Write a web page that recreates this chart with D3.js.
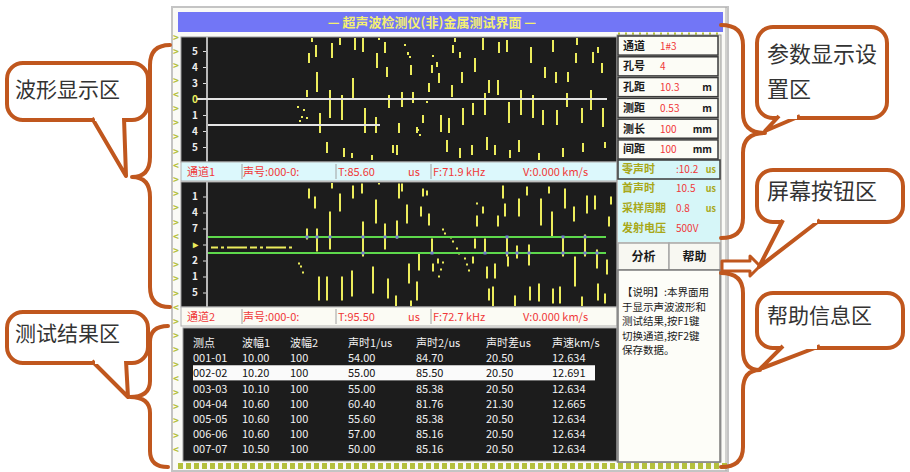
<!DOCTYPE html>
<html>
<head>
<meta charset="utf-8">
<style>
  body { margin: 0; background: #fff; }
  svg text { font-family: "Noto Sans CJK SC", "Noto Sans", sans-serif; }
</style>
</head>
<body>
<script src="https://cdn.jsdelivr.net/npm/d3@7"></script>
<div id="chart"></div>
<script>
// ---- data ----
const titleText = "—  超声波检测仪(非)金属测试界面  —";

// waveform segments: [time sample, amp top, amp bottom]
const upperSegs = [
  [105,62,57],[109,54,42],[102,46,36],[125,56,41],[133,62,54],[148,62,49],[156,62,47],[172,62,59],
  [178,57,46],[170,46,31],[180,32,22],[201,47,44],[204,34,24],[230,37,32],[225,34,26],[232,26,16],
  [222,16,7],[248,62,57],[246,54,46],[253,47,41],[268,41,27],[255,27,16],[245,14,2],[276,62,49],
  [292,57,46],[300,59,47],[282,19,6],[291,19,4],[324,52,36],[338,32,21],[346,59,47],[349,27,16],
  [361,27,17],[369,46,36],[370,62,54],[386,47,36],[391,52,46],[395,36,26],[110,27,7],[100,9,2],
  [146,21,1],[123,9,-19],[135,4,-21],[113,-14,-34],[158,-9,-34],[169,-18,-34],[182,4,-9],[195,7,-8],
  [206,7,-4],[216,-16,-24],[210,-28,-34],[192,-24,-34],[234,-16,-33],[242,-19,-34],[256,-9,-26],
  [266,-4,-16],[278,6,-16],[302,-3,-24],[314,9,-16],[326,4,-19],[336,-11,-26],[350,-11,-26],
  [360,6,-8],[375,-9,-24],[384,9,-11],[396,-9,-28],[120,-43,-54],[137,-49,-58],[145,-54,-59],
  [165,-56,-61],[186,-46,-54],[190,-46,-56],[240,-41,-53],[253,-49,-59],[265,-46,-56],[280,-38,-51],
  [288,-46,-56],[303,-51,-59],[312,-41,-53],[332,-54,-61],[356,-49,-58],[376,-44,-53],[398,-43,-49]
];
const upperDots = [[91,-8],[97,-11],[95,-18],[100,-19],[93,-22],[198,54],[226,43],[220,-3],[211,-31],[213,-36],[203,42]];
const upperBase = [[-10,400,0],[1,173,-26]];   // [t start, t end, amp]

const lowerSegs = [
  [102,56,46],[108,48,36],[125,62,56],[133,51,33],[146,59,46],[155,61,51],[169,45,21],[172,62,60],
  [192,61,46],[195,61,53],[200,40,21],[214,38,28],[216,56,48],[220,54,49],[222,31,19],[110,16,-7],
  [100,16,5],[123,33,-5],[156,23,-12],[178,21,-5],[190,24,6],[225,6,-9],[212,-9,-26],[226,-19,-27],
  [231,-14,-19],[270,29,18],[276,38,31],[291,29,18],[296,59,46],[312,46,28],[298,41,28],[320,58,49],
  [334,46,19],[342,58,51],[345,33,8],[358,56,36],[367,38,23],[380,49,31],[388,49,35],[404,48,40],
  [402,28,18],[268,6,-4],[278,6,-9],[300,8,-12],[310,-1,-14],[322,0,-21],[356,8,-12],[378,10,-12],
  [390,-5,-24],[266,-12,-19],[280,-22,-34],[288,-19,-34],[301,-12,-22],[368,-12,-42],[400,-15,-30],
  [112,-32,-56],[120,-32,-56],[135,-32,-56],[145,-26,-52],[166,-22,-49],[181,-34,-54],[202,-19,-39],
  [210,-37,-56],[189,-51,-62],[204,-56,-62],[282,-44,-56],[286,-42,-62],[308,-51,-62],[323,-42,-56],
  [332,-39,-57],[346,-44,-59],[353,-42,-59],[375,-52,-62],[391,-39,-56],[398,-49,-59]
];
const lowerDots = [[236,15],[238,11],[244,7],[246,3],[250,-4],[252,-9],[258,-14],[260,-20],[262,-26],
  [236,-18],[234,-25],[232,-32],[92,-19],[94,-22],[96,-28],[270,41]];
const lowerGates = [7.5, -8.5];
const lowerDash = [4, 85, -3];

const ampTicks = [48, 32, 16, 0, -16, -32, -48];
const upperTickLabels = ["5", "4", "3", "0", "1", "4", "5"];
const lowerTickLabels = ["1", "4", "7", "▸", "2", "1", "5"];

const ch1Info = ["通道1", "声号:000-0:", "T:85.60", "us", "F:71.9 kHz", "V:0.000 km/s"];
const ch2Info = ["通道2", "声号:000-0:", "T:95.50", "us", "F:72.7 kHz", "V:0.000 km/s"];

const tableHead = ["测点", "波幅1", "波幅2", "声时1/us", "声时2/us", "声时差us", "声速km/s"];
const tableRows = [
  ["001-01", "10.00", "100", "54.00", "84.70", "20.50", "12.634"],
  ["002-02", "10.20", "100", "55.00", "85.50", "20.50", "12.691"],
  ["003-03", "10.10", "100", "55.00", "85.38", "20.50", "12.634"],
  ["004-04", "10.60", "100", "60.40", "81.76", "21.30", "12.665"],
  ["005-05", "10.60", "100", "55.60", "85.38", "20.50", "12.634"],
  ["006-06", "10.60", "100", "57.00", "85.16", "20.50", "12.634"],
  ["007-07", "10.50", "100", "50.00", "85.16", "20.50", "12.634"]
];
const selectedRow = 1;

const paramLabels = ["通道", "孔号", "孔距", "测距", "测长", "间距"];
const paramValues = ["1#3", "4", "10.3", "0.53", "100", "100"];
const paramUnits = ["", "", "m", "m", "mm", "mm"];

const statusLabels = ["零声时", "首声时", "采样周期", "发射电压"];
const statusValues = [":10.2", "10.5", "0.8", "500V"];
const statusUnits = ["us", "us", "us", ""];

const buttonLabels = ["分析", "帮助"];
const helpLines = ["【说明】:本界面用", "于显示声波波形和", "测试结果,按F1键", "切换通道,按F2键", "保存数据。"];

const calloutTexts = [["波形显示区"], ["测试结果区"], ["参数显示设", "置区"], ["屏幕按钮区"], ["帮助信息区"]];

// ---- drawing ----
const W = 910, H = 472;
const svg = d3.select("#chart").append("svg").attr("width", W).attr("height", H);

const olive = "#a8a818", red = "#f03838", yellow = "#ecec5c", orange = "#c0571e";

// outer frame of the instrument screen
svg.append("rect").attr("x", 172).attr("y", 7).attr("width", 556).attr("height", 464)
  .attr("fill", "#fafaf6").attr("stroke", "#c4c4c4").attr("stroke-width", 2);
svg.append("line").attr("x1", 726).attr("x2", 726).attr("y1", 7).attr("y2", 471).attr("stroke", "#a8a8a8");

// title bar
svg.append("rect").attr("x", 178).attr("y", 12).attr("width", 545).attr("height", 20).attr("fill", "#7276f6");
svg.append("text").attr("x", 432).attr("y", 27).attr("text-anchor", "middle")
  .attr("fill", "#f4f070").attr("font-size", 13).attr("font-weight", "bold").text(titleText);

// left chevrons and bottom checker strip
svg.append("g").selectAll("text").data(d3.range(38, 462, 14.2)).join("text")
  .attr("x", 173).attr("y", d => d + 3).attr("font-size", 10).attr("font-weight", "bold")
  .attr("fill", "#b4c03c").text((d, i) => i % 5 === 4 ? "<" : ">");
svg.append("g").selectAll("rect").data(d3.range(178, 724, 8)).join("rect")
  .attr("x", d => d).attr("y", 463).attr("width", 5).attr("height", 6).attr("fill", "#b4c03c");
svg.append("line").attr("x1", 618).attr("x2", 722).attr("y1", 34).attr("y2", 34)
  .attr("stroke", "#b4c03c").attr("stroke-width", 3).attr("stroke-dasharray", "2 5");

// scales
const x = d3.scaleLinear().domain([0, 409]).range([207, 616]);
const yUp = d3.scaleLinear().domain([-63, 62]).range([162, 37]);
const yLo = d3.scaleLinear().domain([-62.5, 62.5]).range([307, 182]);

function wavePanel(y, segs, dots, labels, id) {
  const [y1, y0] = y.range();
  const g = svg.append("g");
  g.append("rect").attr("x", 181).attr("y", y0).attr("width", 436).attr("height", y1 - y0)
    .attr("fill", "#1c1c1c").attr("stroke", "#9a9a9a");
  g.append("line").attr("x1", 207).attr("x2", 207).attr("y1", y0).attr("y2", y1)
    .attr("stroke", "#b8b8b8").attr("stroke-width", 2);
  g.append("clipPath").attr("id", id).append("rect")
    .attr("x", 182).attr("y", y0 + 1).attr("width", 434).attr("height", y1 - y0 - 2);
  const c = g.append("g").attr("clip-path", `url(#${id})`);
  // amplitude axis on the left
  const ax = g.append("g").attr("transform", "translate(206,0)")
    .call(d3.axisLeft(y).tickValues(ampTicks).tickSize(3).tickFormat((d, i) => labels[i]));
  ax.select(".domain").remove();
  ax.selectAll("line").attr("stroke", "#ddd");
  ax.selectAll("text").attr("fill", (d) => d === 0 ? yellow : "#eee").attr("font-size", 10)
    .attr("font-weight", "bold").attr("dx", -2);
  // small ticks on the right edge
  const ar = g.append("g").attr("transform", "translate(617,0)")
    .call(d3.axisRight(y).tickValues(d3.range(-56, 62, 14)).tickSize(3).tickFormat(""));
  ar.select(".domain").remove();
  ar.selectAll("line").attr("stroke", "#aaa");
  c.append("g").selectAll("line").data(segs).join("line")
    .attr("x1", d => x(d[0])).attr("x2", d => x(d[0]))
    .attr("y1", d => y(d[1])).attr("y2", d => y(d[2]))
    .attr("stroke", yellow).attr("stroke-width", 2);
  c.append("g").selectAll("rect").data(dots).join("rect")
    .attr("x", d => x(d[0]) - 1).attr("y", d => y(d[1]) - 1).attr("width", 2).attr("height", 2)
    .attr("fill", yellow);
  return c;
}

// upper channel
const cu = wavePanel(yUp, upperSegs, upperDots, upperTickLabels, "clipU");
cu.append("g").selectAll("line").data(upperBase).join("line")
  .attr("x1", d => x(d[0])).attr("x2", d => x(d[1]))
  .attr("y1", d => yUp(d[2])).attr("y2", d => yUp(d[2]))
  .attr("stroke", "#e4e4e4").attr("stroke-width", 2);

// lower channel
const cl = wavePanel(yLo, lowerSegs, lowerDots, lowerTickLabels, "clipL");
cl.append("g").selectAll("line").data(lowerGates).join("line")
  .attr("x1", x(1)).attr("x2", x(399)).attr("y1", d => yLo(d)).attr("y2", d => yLo(d))
  .attr("stroke", "#5ed84c").attr("stroke-width", 2);
cl.append("line").attr("x1", x(lowerDash[0])).attr("x2", x(lowerDash[1]))
  .attr("y1", yLo(lowerDash[2])).attr("y2", yLo(lowerDash[2]))
  .attr("stroke", yellow).attr("stroke-width", 2).attr("stroke-dasharray", "7 3 3 3 20 3");
// crossing marks where echoes cut the gates
const crossings = [];
lowerSegs.forEach(s => lowerGates.forEach(gv => { if (s[1] >= gv && s[2] <= gv) crossings.push([s[0], gv]); }));
cl.append("g").selectAll("rect").data(crossings).join("rect")
  .attr("x", d => x(d[0]) - 1.5).attr("y", d => yLo(d[1]) - 1.5).attr("width", 3).attr("height", 3)
  .attr("fill", "#6f7fd0");

// info strips
const infoX = [187, 243, 338, 408, 433, 523];
function infoStrip(y0, bg, items) {
  svg.append("rect").attr("x", 181).attr("y", y0).attr("width", 436).attr("height", 19)
    .attr("fill", bg).attr("stroke", "#b0b0b0");
  [242, 336, 431].forEach(sx => svg.append("line").attr("x1", sx).attr("x2", sx)
    .attr("y1", y0 + 2).attr("y2", y0 + 17).attr("stroke", "#a0a0a0"));
  svg.append("g").selectAll("text").data(items).join("text")
    .attr("x", (d, i) => infoX[i]).attr("y", y0 + 14).attr("fill", red)
    .attr("font-size", 11).text(d => d);
}
infoStrip(162, "#dcf8fc", ch1Info);
infoStrip(307, "#fbfbf4", ch2Info);

// results table
svg.append("rect").attr("x", 183).attr("y", 328).attr("width", 434).attr("height", 133)
  .attr("fill", "#1c1c1c").attr("stroke", "#9a9a9a");
const colX = [193, 242, 290, 348, 416, 486, 552];
const rowY = d3.scaleBand().domain(d3.range(tableRows.length + 1)).range([334, 455]);
svg.append("rect").attr("x", 193).attr("y", rowY(selectedRow + 1) + 1)
  .attr("width", 402).attr("height", rowY.bandwidth()).attr("fill", "#fafafa");
svg.append("g").selectAll("g").data([tableHead].concat(tableRows)).join("g")
  .attr("transform", (d, i) => `translate(0,${rowY(i) + rowY.bandwidth() - 2})`)
  .each(function (row, ri) {
    d3.select(this).selectAll("text").data(row).join("text")
      .attr("x", (d, i) => colX[i]).attr("font-size", 11)
      .attr("fill", ri === selectedRow + 1 ? "#111" : "#f2f2f2").text(d => d);
  });

// right column: parameters
svg.append("rect").attr("x", 617).attr("y", 35).attr("width", 104).attr("height", 427)
  .attr("fill", "#e4e4dc").attr("stroke", "#9a9a9a");
const pY = d3.scaleBand().domain(d3.range(paramLabels.length)).range([36, 159]).paddingInner(0.08);
const pg = svg.append("g").selectAll("g").data(paramLabels).join("g")
  .attr("transform", (d, i) => `translate(0,${pY(i)})`);
pg.append("rect").attr("x", 618).attr("width", 100).attr("height", pY.bandwidth())
  .attr("fill", "#fcfcf6").attr("stroke", "#3a3a3a").attr("stroke-width", 1.5);
pg.append("text").attr("x", 623).attr("y", pY.bandwidth() / 2 + 4).attr("font-size", 11)
  .attr("font-weight", "bold").attr("fill", "#1a1a1a").text(d => d);
pg.append("text").attr("x", 660).attr("y", pY.bandwidth() / 2 + 4).attr("font-size", 10)
  .attr("fill", red).text((d, i) => paramValues[i]);
pg.append("text").attr("x", 712).attr("y", pY.bandwidth() / 2 + 4).attr("font-size", 10)
  .attr("text-anchor", "end").attr("font-weight", "bold").attr("fill", "#1a1a1a").text((d, i) => paramUnits[i]);

// status block
svg.append("rect").attr("x", 618).attr("y", 160).attr("width", 102).attr("height", 82).attr("fill", "#d6f6f8");
svg.append("rect").attr("x", 618).attr("y", 160).attr("width", 102).attr("height", 19)
  .attr("fill", "none").attr("stroke", "#3a3a3a").attr("stroke-width", 1.5);
const sY = [173, 192, 212, 232];
const sg = svg.append("g").selectAll("g").data(statusLabels).join("g")
  .attr("transform", (d, i) => `translate(0,${sY[i]})`);
sg.append("text").attr("x", 622).attr("font-size", 11).attr("font-weight", "bold").attr("fill", olive).text(d => d);
sg.append("text").attr("x", 676).attr("font-size", 10).attr("fill", red).text((d, i) => statusValues[i]);
sg.append("text").attr("x", 716).attr("text-anchor", "end").attr("font-size", 9).attr("font-weight", "bold")
  .attr("fill", olive).text((d, i) => statusUnits[i]);

// buttons
const bx = d3.scaleBand().domain(buttonLabels).range([618, 720]);
const bg = svg.append("g").selectAll("g").data(buttonLabels).join("g");
bg.append("rect").attr("x", d => bx(d)).attr("y", 243).attr("width", bx.bandwidth()).attr("height", 27)
  .attr("fill", "#f8f8f2").attr("stroke", "#a8a8a8").attr("stroke-width", 1.5);
bg.append("text").attr("x", d => bx(d) + bx.bandwidth() / 2).attr("y", 261).attr("text-anchor", "middle")
  .attr("font-size", 12).attr("font-weight", "bold").attr("fill", "#1a1a1a").text(d => d);

// help area
svg.append("rect").attr("x", 618).attr("y", 270).attr("width", 102).attr("height", 192)
  .attr("fill", "#fdfdf8").attr("stroke", "#7a7a7a").attr("stroke-width", 1.5);
svg.append("g").selectAll("text").data(helpLines).join("text")
  .attr("x", 622).attr("y", (d, i) => 296 + i * 14.5).attr("font-size", 10.5).attr("fill", "#1a1a1a").text(d => d);

// ---- callouts ----
const ann = svg.append("g").attr("fill", "none").attr("stroke", orange).attr("stroke-width", 4)
  .attr("stroke-linejoin", "round").attr("stroke-linecap", "round");

function brace(xEnd, xSpine, xTip, y0, yTip, y1, r) {
  const p = d3.path();
  p.moveTo(xEnd, y0);
  p.quadraticCurveTo(xSpine, y0, xSpine, y0 + r);
  p.lineTo(xSpine, yTip - r);
  p.quadraticCurveTo(xSpine, yTip, xTip, yTip);
  p.quadraticCurveTo(xSpine, yTip, xSpine, yTip + r);
  p.lineTo(xSpine, y1 - r);
  p.quadraticCurveTo(xSpine, y1, xEnd, y1);
  return p.toString();
}
ann.append("path").attr("d", brace(170, 150, 132, 45, 177, 307, 20));
ann.append("path").attr("d", brace(168, 150, 130, 326, 397, 467, 16));
ann.append("path").attr("d", brace(721, 743, 765, 25, 133, 238, 20));
ann.append("path").attr("d", brace(721, 743, 760, 273, 370, 467, 20));

// arrow towards the buttons
ann.append("path").attr("stroke-width", 3).attr("fill", "#fff")
  .attr("d", "M722,261 L750,261 L750,256 L760,266 L750,276 L750,271 L722,271 Z");

const bubbles = [
  { box: [7, 63, 141, 57], tail: [[92, 118], [126, 176], [124, 118]], tx: 15, ty: 97, size: 21 },
  { box: [7, 312, 141, 51], tail: [[92, 361], [128, 397], [126, 361]], tx: 15, ty: 341, size: 21 },
  { box: [757, 27, 130, 91], tail: [[779, 116], [765, 131], [800, 116]], tx: 767, ty: 62, size: 22 },
  { box: [757, 170, 146, 52], tail: [[783, 220], [759, 267], [820, 220]], tx: 767, ty: 199, size: 22 },
  { box: [757, 293, 146, 55], tail: [[783, 346], [760, 369], [820, 346]], tx: 767, ty: 323, size: 21 }
];
const bub = svg.append("g").selectAll("g").data(bubbles).join("g");
bub.append("rect").attr("x", d => d.box[0]).attr("y", d => d.box[1])
  .attr("width", d => d.box[2]).attr("height", d => d.box[3]).attr("rx", 16)
  .attr("fill", "#fff").attr("stroke", orange).attr("stroke-width", 4);
bub.append("path").attr("d", d => d3.line()(d.tail))
  .attr("fill", "#fff").attr("stroke", orange).attr("stroke-width", 4).attr("stroke-linejoin", "round");
bub.append("line").attr("x1", d => d.tail[0][0] + 3).attr("x2", d => d.tail[2][0] - 3)
  .attr("y1", d => d.tail[0][1]).attr("y2", d => d.tail[2][1]).attr("stroke", "#fff").attr("stroke-width", 6);
bub.each(function (d, i) {
  d3.select(this).selectAll("text").data(calloutTexts[i]).join("text")
    .attr("x", d.tx).attr("y", (t, j) => d.ty + j * 35).attr("font-size", d.size)
    .attr("fill", "#333").text(t => t);
});
</script>
</body>
</html>
